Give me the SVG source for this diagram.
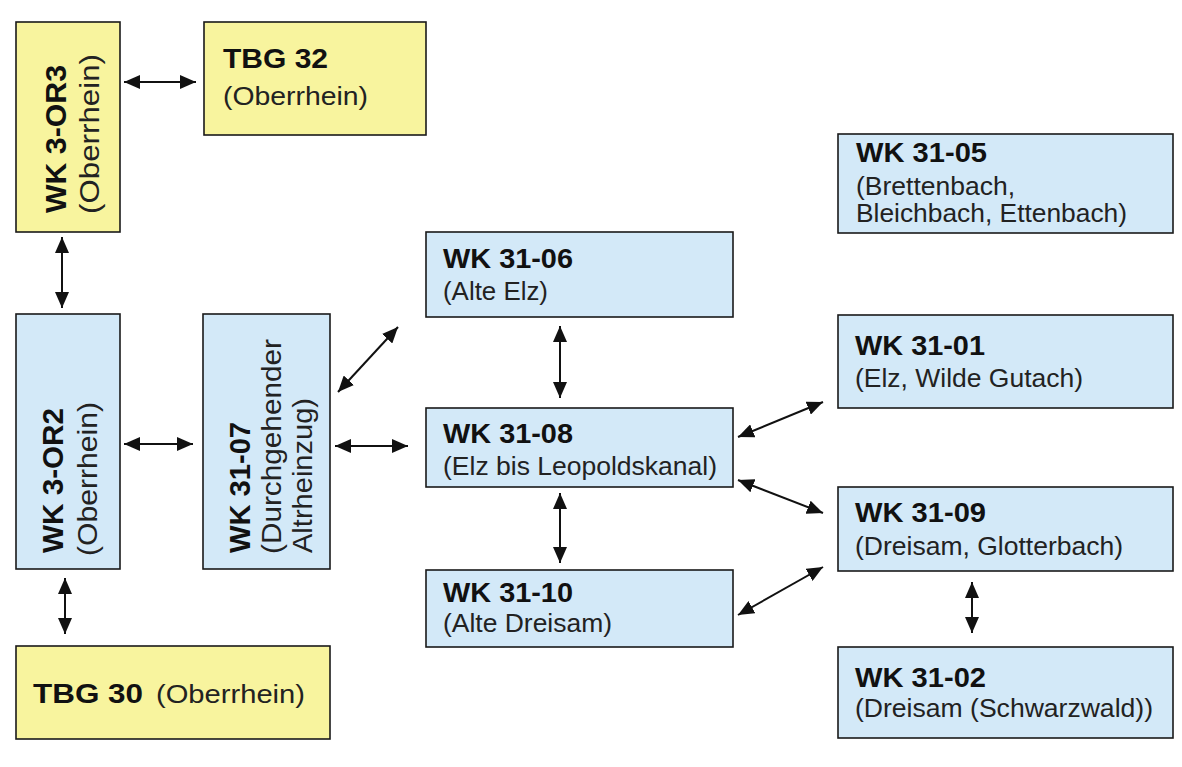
<svg xmlns="http://www.w3.org/2000/svg" width="1182" height="767" viewBox="0 0 1182 767">
<style>
.box{stroke:#1a1a1a;stroke-width:1.6}
.y{fill:#F8F49E}
.b{fill:#D3E9F8}
.t{font-family:"Liberation Sans",Arial,sans-serif;font-weight:bold;font-size:28px;fill:#111}
.s{font-family:"Liberation Sans",Arial,sans-serif;font-size:26px;fill:#222}
.rt{font-family:"Liberation Sans",Arial,sans-serif;font-weight:bold;font-size:29px;fill:#111}
.rs{font-family:"Liberation Sans",Arial,sans-serif;font-size:28px;fill:#222}
.c{stroke:#111;stroke-width:2;fill:none;marker-start:url(#ah);marker-end:url(#ah)}
</style>
<defs>
<marker id="ah" viewBox="0 0 16 14" refX="16" refY="7" markerWidth="16" markerHeight="14" markerUnits="userSpaceOnUse" orient="auto-start-reverse">
<path d="M0,0 L16,7 L0,14 z" fill="#111"/>
</marker>
</defs>
<rect width="1182" height="767" fill="#fff"/>
<g id="wk3-or3">
<rect class="box y" x="16" y="22" width="104" height="210"/>
<text class="rt" transform="translate(66,213) rotate(-90)" textLength="148" lengthAdjust="spacingAndGlyphs">WK 3-OR3</text>
<text class="rs" transform="translate(99,214) rotate(-90)" textLength="160" lengthAdjust="spacingAndGlyphs">(Oberrhein)</text>
</g>
<g id="tbg32">
<rect class="box y" x="204" y="22" width="222" height="113"/>
<text class="t" x="223" y="68" textLength="105" lengthAdjust="spacingAndGlyphs">TBG 32</text>
<text class="s" x="223" y="105" textLength="145" lengthAdjust="spacingAndGlyphs">(Oberrhein)</text>
</g>
<g id="wk3-or2">
<rect class="box b" x="16" y="314" width="104" height="255"/>
<text class="rt" transform="translate(63,553) rotate(-90)" textLength="145" lengthAdjust="spacingAndGlyphs">WK 3-OR2</text>
<text class="rs" transform="translate(97,556) rotate(-90)" textLength="154" lengthAdjust="spacingAndGlyphs">(Oberrhein)</text>
</g>
<g id="wk31-07">
<rect class="box b" x="203" y="314" width="127" height="255"/>
<text class="rt" transform="translate(250,553) rotate(-90)" textLength="131" lengthAdjust="spacingAndGlyphs">WK 31-07</text>
<text class="rs" transform="translate(281,554) rotate(-90)" textLength="215" lengthAdjust="spacingAndGlyphs">(Durchgehender</text>
<text class="rs" transform="translate(312,553) rotate(-90)" textLength="155" lengthAdjust="spacingAndGlyphs">Altrheinzug)</text>
</g>
<g id="tbg30">
<rect class="box y" x="16" y="646" width="314" height="93"/>
<text class="t" x="33" y="703" textLength="110" lengthAdjust="spacingAndGlyphs">TBG 30</text>
<text class="s" x="156" y="703" textLength="149" lengthAdjust="spacingAndGlyphs">(Oberrhein)</text>
</g>
<g id="wk31-06">
<rect class="box b" x="426" y="232" width="307" height="85"/>
<text class="t" x="443" y="268" textLength="130" lengthAdjust="spacingAndGlyphs">WK 31-06</text>
<text class="s" x="443" y="300" textLength="105" lengthAdjust="spacingAndGlyphs">(Alte Elz)</text>
</g>
<g id="wk31-08">
<rect class="box b" x="426" y="408" width="307" height="79"/>
<text class="t" x="443" y="443" textLength="130" lengthAdjust="spacingAndGlyphs">WK 31-08</text>
<text class="s" x="443" y="475" textLength="274" lengthAdjust="spacingAndGlyphs">(Elz bis Leopoldskanal)</text>
</g>
<g id="wk31-10">
<rect class="box b" x="426" y="570" width="307" height="77"/>
<text class="t" x="443" y="602" textLength="130" lengthAdjust="spacingAndGlyphs">WK 31-10</text>
<text class="s" x="443" y="632" textLength="169" lengthAdjust="spacingAndGlyphs">(Alte Dreisam)</text>
</g>
<g id="wk31-05">
<rect class="box b" x="838" y="134" width="335" height="99"/>
<text class="t" x="856" y="162" textLength="131" lengthAdjust="spacingAndGlyphs">WK 31-05</text>
<text class="s" x="856" y="195" textLength="159" lengthAdjust="spacingAndGlyphs">(Brettenbach,</text>
<text class="s" x="856" y="222" textLength="271" lengthAdjust="spacingAndGlyphs">Bleichbach, Ettenbach)</text>
</g>
<g id="wk31-01">
<rect class="box b" x="838" y="315" width="335" height="93"/>
<text class="t" x="855" y="355" textLength="130" lengthAdjust="spacingAndGlyphs">WK 31-01</text>
<text class="s" x="855" y="387" textLength="228" lengthAdjust="spacingAndGlyphs">(Elz, Wilde Gutach)</text>
</g>
<g id="wk31-09">
<rect class="box b" x="838" y="487" width="335" height="84"/>
<text class="t" x="855" y="522" textLength="131" lengthAdjust="spacingAndGlyphs">WK 31-09</text>
<text class="s" x="855" y="555" textLength="268" lengthAdjust="spacingAndGlyphs">(Dreisam, Glotterbach)</text>
</g>
<g id="wk31-02">
<rect class="box b" x="838" y="647" width="335" height="91"/>
<text class="t" x="855" y="687" textLength="131" lengthAdjust="spacingAndGlyphs">WK 31-02</text>
<text class="s" x="855" y="717" textLength="298" lengthAdjust="spacingAndGlyphs">(Dreisam (Schwarzwald))</text>
</g>
<g id="connectors">
<line class="c" x1="124" y1="82" x2="196" y2="82"/>
<line class="c" x1="62" y1="237" x2="62" y2="308"/>
<line class="c" x1="124" y1="444" x2="193" y2="444"/>
<line class="c" x1="335" y1="446" x2="408" y2="446"/>
<line class="c" x1="338" y1="392" x2="398" y2="327"/>
<line class="c" x1="65" y1="578" x2="65" y2="634"/>
<line class="c" x1="560" y1="326" x2="560" y2="398"/>
<line class="c" x1="560" y1="493" x2="560" y2="563"/>
<line class="c" x1="738" y1="437" x2="823" y2="402"/>
<line class="c" x1="738" y1="480" x2="823" y2="513"/>
<line class="c" x1="738" y1="615" x2="823" y2="567"/>
<line class="c" x1="972" y1="582" x2="972" y2="633"/>
</g>
</svg>
